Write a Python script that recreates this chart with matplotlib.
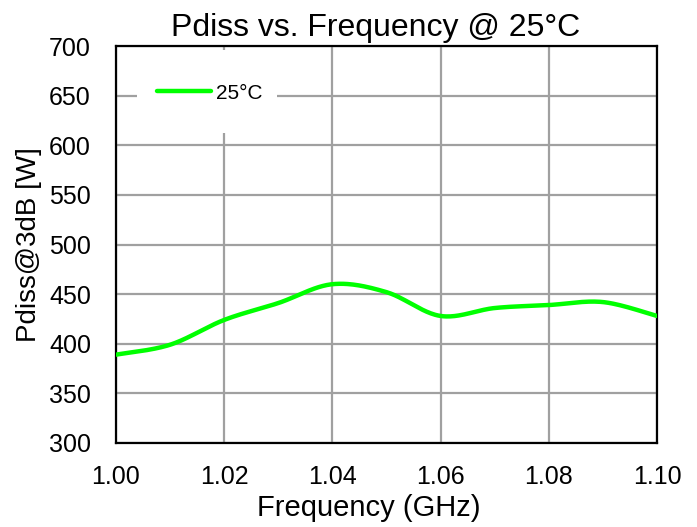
import numpy as np
import matplotlib.pyplot as plt
from matplotlib.patches import Rectangle

plt.rcParams['font.family'] = ['Liberation Sans', 'DejaVu Sans']

# measured dissipated power at 3 dB compression, 25 C
freq_ghz = [1.00, 1.01, 1.02, 1.03, 1.04, 1.05, 1.06, 1.07, 1.08, 1.09, 1.10]
pdiss_w = [389, 399, 424, 441, 460, 452, 428, 436, 439, 442, 428]

x_ticks = [1.00, 1.02, 1.04, 1.06, 1.08, 1.10]
y_ticks = [300, 350, 400, 450, 500, 550, 600, 650, 700]


def smooth(x, y, n=40):
    # Catmull-Rom style cubic Bezier segments through every point
    x = np.asarray(x, float)
    y = np.asarray(y, float)
    px = np.concatenate([[x[0]], x, [x[-1]]])
    py = np.concatenate([[y[0]], y, [y[-1]]])
    xs, ys = [], []
    t = np.linspace(0, 1, n)
    for i in range(1, len(px) - 2):
        p0x, p1x, p2x, p3x = px[i - 1], px[i], px[i + 1], px[i + 2]
        p0y, p1y, p2y, p3y = py[i - 1], py[i], py[i + 1], py[i + 2]
        c1x = p1x + (p2x - p0x) / 6
        c1y = p1y + (p2y - p0y) / 6
        c2x = p2x - (p3x - p1x) / 6
        c2y = p2y - (p3y - p1y) / 6
        b0 = (1 - t) ** 3
        b1 = 3 * (1 - t) ** 2 * t
        b2 = 3 * (1 - t) * t ** 2
        b3 = t ** 3
        xs.append(b0 * p1x + b1 * c1x + b2 * c2x + b3 * p2x)
        ys.append(b0 * p1y + b1 * c1y + b2 * c2y + b3 * p2y)
    return np.concatenate(xs), np.concatenate(ys)


fig = plt.figure(figsize=(6.97, 5.27), dpi=100)
ax = fig.add_axes([0.1664, 0.1594, 0.7762, 0.7533])

sx, sy = smooth(freq_ghz, pdiss_w)
ax.plot(sx, sy, color='#00ff00', lw=3.2, label='25°C', zorder=3,
        solid_capstyle='round')

ax.set_xlim(1.00, 1.10)
ax.set_ylim(300, 700)
ax.set_xticks(x_ticks)
ax.set_xticklabels([f'{v:.2f}' for v in x_ticks])
ax.set_yticks(y_ticks)
ax.grid(True, color='#a0a0a0', lw=1.6, zorder=0.5)
ax.set_axisbelow(True)
ax.tick_params(axis='both', length=0, labelsize=18)
ax.tick_params(axis='y', pad=18)
ax.tick_params(axis='x', pad=16)
for s in ax.spines.values():
    s.set_color('black')
    s.set_linewidth(1.6)

# white backing behind the legend
ax.add_patch(Rectangle((0.039, 0.781), 0.259, 0.209, transform=ax.transAxes,
                       facecolor='white', edgecolor='none', zorder=1))
leg = ax.legend(loc='center left', bbox_to_anchor=(0.0758, 0.8816),
                frameon=False, fontsize=15, handlelength=2.6,
                handletextpad=0.24, borderpad=0, borderaxespad=0)

ax.set_title('Pdiss vs. Frequency @ 25°C', fontsize=23, pad=7, x=0.48)
ax.set_xlabel('Frequency (GHz)', fontsize=21, labelpad=3.5)
ax.xaxis.label.set_x(0.467)
ax.set_ylabel('Pdiss@3dB [W]', fontsize=20, labelpad=5)

fig.savefig('out.png', dpi=100)
